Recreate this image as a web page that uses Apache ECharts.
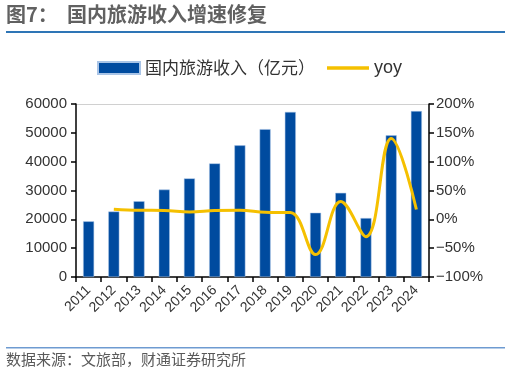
<!DOCTYPE html>
<html><head><meta charset="utf-8">
<script src="https://cdn.jsdelivr.net/npm/echarts@6/dist/echarts.min.js"></script>
<style>html,body{margin:0;padding:0;background:#fff}#c{width:510px;height:379px}</style>
</head><body><div id="c"></div>
<script>
const years = ['2011','2012','2013','2014','2015','2016','2017','2018','2019','2020','2021','2022','2023','2024'];
const revenue = [19305,22706,26276,30312,34195,39390,45661,51278,57251,22286,29191,20444,49133,57543];
const yoy = [null,17.6,15.7,15.4,12.8,15.2,15.9,12.3,11.7,-61.1,31.0,-30.0,140.3,17.1];
const leftTicks = [0,10000,20000,30000,40000,50000,60000];
const rightTicks = [-100,-50,0,50,100,150,200];

const chart = echarts.init(document.getElementById('c'), null, {renderer:'canvas'});
const numFont = 'Liberation Sans, Arial, sans-serif';
const cjk = '"Noto Sans CJK SC", sans-serif';
chart.setOption({
  animation:false,
  textStyle:{fontFamily:numFont},
  graphic:[
    {type:'text', left:6, top:4, style:{text:'图7：  国内旅游收入增速修复', font:'bold 20px "Noto Sans CJK SC", sans-serif', fill:'#616161'}},
    {type:'rect', shape:{x:6,y:31,width:499,height:2}, style:{fill:'#2E75B6'}},
    {type:'rect', shape:{x:6,y:347,width:499,height:1.5}, style:{fill:'#6E9BD1'}},
    {type:'text', left:6, top:352, style:{text:'数据来源：文旅部，财通证券研究所', font:'15px "Noto Sans CJK SC", sans-serif', fill:'#595959'}}
  ],
  legend:{
    top:54, left:92, itemGap:12,
    textStyle:{fontFamily:cjk, fontSize:17, color:'#333'},
    data:[
      {name:'国内旅游收入（亿元）', icon:'rect', itemStyle:{color:'#004B9F'}},
      {name:'yoy', icon:'path://M0,0 L1,0 L1,0.08 L0,0.08 Z', textStyle:{fontFamily:numFont, fontSize:18}}
    ],
    itemWidth:42, itemHeight:12
  },
  grid:{left:76, right:81, top:104, bottom:102},
  xAxis:{
    type:'category', data:years,
    axisLine:{lineStyle:{color:'#000', width:1.5}},
    axisTick:{show:true, length:5, lineStyle:{color:'#000', width:1.5}},
    axisLabel:{rotate:45, fontSize:14, color:'#333', margin:11, fontFamily:numFont, interval:0}
  },
  yAxis:[
    {type:'value', min:0, max:60000, interval:10000,
     axisLine:{show:true, lineStyle:{color:'#000', width:1.5}},
     axisTick:{show:true, length:5, lineStyle:{color:'#000', width:1.5}},
     axisLabel:{fontSize:15, color:'#333', margin:9, formatter:v=>String(v)},
     splitLine:{show:true, lineStyle:{color:['transparent','transparent','transparent','transparent','transparent','transparent','#D0D0D0'], width:1}}
    },
    {type:'value', min:-100, max:200, interval:50,
     axisLine:{show:true, lineStyle:{color:'#000', width:1.5}},
     axisTick:{show:true, length:5, lineStyle:{color:'#000', width:1.5}},
     axisLabel:{fontSize:15, color:'#333', margin:7, formatter:v=>(v<0?'\u2212'+(-v):v)+'%'},
     splitLine:{show:false}
    }
  ],
  series:[
    {name:'国内旅游收入（亿元）', type:'bar', data:revenue, barWidth:11,
     itemStyle:{color:'#004B9F', borderColor:'#A9C4E6', borderWidth:0.5}},
    {name:'yoy', type:'line', yAxisIndex:1, data:yoy, smooth:0.4, showSymbol:false,
     lineStyle:{color:'#F5C000', width:3}, itemStyle:{color:'#F5C000'}}
  ]
});
</script></body></html>
